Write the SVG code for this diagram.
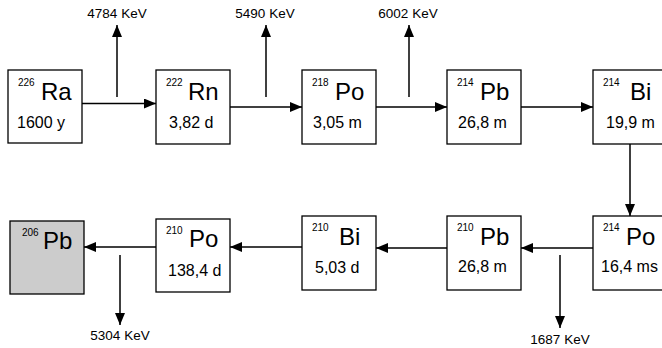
<svg xmlns="http://www.w3.org/2000/svg" width="662" height="348" viewBox="0 0 662 348">
<style>
.box{fill:#fff;stroke:#000;stroke-width:1.3}
.end{fill:#cccccc;stroke:#000;stroke-width:1.3}
text{font-family:"Liberation Sans",Arial,Helvetica,sans-serif;fill:#000}
.sup{font-size:10px}
.sym{font-size:24px}
.t{font-size:16px}
.e{font-size:13.5px;text-anchor:middle}
.c line{stroke:#000;stroke-width:1.5;marker-end:url(#ah)}
</style>
<defs>
<marker id="ah" markerUnits="userSpaceOnUse" markerWidth="12" markerHeight="10" refX="12" refY="5" orient="auto" viewBox="0 0 12 10">
<path d="M0,0 L12,5 L0,10 z" fill="#000"/>
</marker>
</defs>
<g id="ra226"><rect class="box" x="8" y="70" width="74" height="73"/><text class="sup" x="18" y="86">226</text><text class="sym" x="41" y="100">Ra</text><text class="t" x="17" y="128">1600 y</text></g>
<g id="rn222"><rect class="box" x="156" y="70" width="74" height="74"/><text class="sup" x="166" y="86">222</text><text class="sym" x="188" y="100">Rn</text><text class="t" x="169" y="128">3,82 d</text></g>
<g id="po218"><rect class="box" x="302" y="70" width="74" height="74"/><text class="sup" x="312" y="86">218</text><text class="sym" x="335" y="100">Po</text><text class="t" x="313" y="128">3,05 m</text></g>
<g id="pb214"><rect class="box" x="447" y="70" width="74" height="74"/><text class="sup" x="457" y="86">214</text><text class="sym" x="480" y="100">Pb</text><text class="t" x="458" y="128">26,8 m</text></g>
<g id="bi214"><rect class="box" x="593" y="70" width="74" height="74"/><text class="sup" x="603" y="86">214</text><text class="sym" x="630" y="100">Bi</text><text class="t" x="606" y="128">19,9 m</text></g>
<g id="po214"><rect class="box" x="593" y="216" width="74" height="74"/><text class="sup" x="603" y="231">214</text><text class="sym" x="626" y="245">Po</text><text class="t" x="601" y="272">16,4 ms</text></g>
<g id="pb210"><rect class="box" x="447" y="216" width="74" height="74"/><text class="sup" x="457" y="231">210</text><text class="sym" x="480" y="245">Pb</text><text class="t" x="458" y="272">26,8 m</text></g>
<g id="bi210"><rect class="box" x="302" y="216" width="74" height="74"/><text class="sup" x="312" y="231">210</text><text class="sym" x="339" y="245">Bi</text><text class="t" x="315" y="273">5,03 d</text></g>
<g id="po210"><rect class="box" x="156" y="219" width="74" height="73"/><text class="sup" x="166" y="234">210</text><text class="sym" x="189" y="247">Po</text><text class="t" x="168" y="276">138,4 d</text></g>
<g id="pb206"><rect class="end" x="10" y="221" width="74" height="73"/><text class="sup" x="22" y="236">206</text><text class="sym" x="43" y="249">Pb</text></g>
<g id="connectors" class="c">
<line x1="82" y1="103.5" x2="156" y2="103.5"/>
<line x1="230" y1="107" x2="302" y2="107"/>
<line x1="376" y1="107" x2="447" y2="107"/>
<line x1="521" y1="107" x2="593" y2="107"/>
<line x1="630" y1="144" x2="630" y2="216"/>
<line x1="593" y1="248" x2="521" y2="248"/>
<line x1="447" y1="248" x2="376" y2="248"/>
<line x1="302" y1="247" x2="230" y2="247"/>
<line x1="156" y1="247" x2="84" y2="247"/>
<line x1="117" y1="97" x2="117" y2="25"/>
<line x1="266" y1="97" x2="266" y2="25"/>
<line x1="409" y1="97" x2="409" y2="25"/>
<line x1="120" y1="255" x2="120" y2="325"/>
<line x1="560" y1="255" x2="560" y2="328"/>
</g>
<g id="labels">
<text class="e" x="117" y="18">4784 KeV</text>
<text class="e" x="265" y="18">5490 KeV</text>
<text class="e" x="408" y="18">6002 KeV</text>
<text class="e" x="120" y="340">5304 KeV</text>
<text class="e" x="560" y="344">1687 KeV</text>
</g>
</svg>
